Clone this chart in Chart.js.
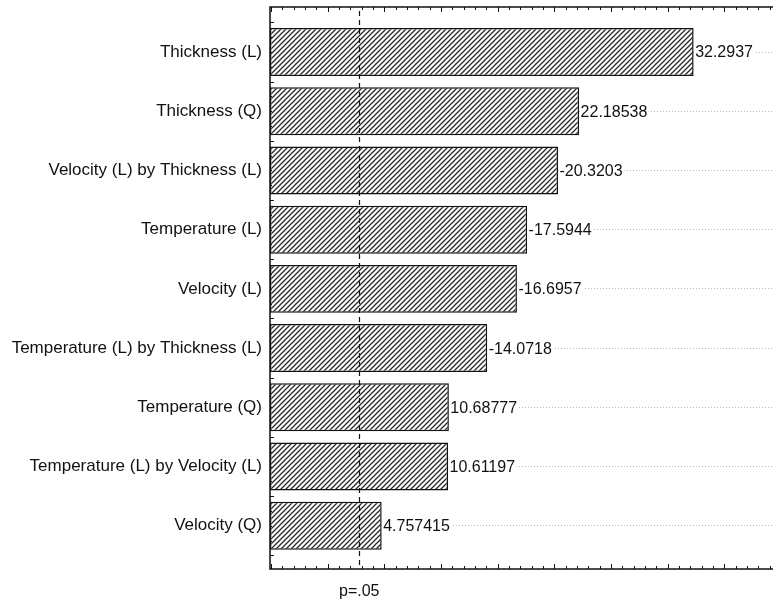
<!DOCTYPE html>
<html>
<head>
<meta charset="utf-8">
<script src="https://cdn.jsdelivr.net/npm/chart.js@4"></script>
<style>
  html, body { margin: 0; padding: 0; background: #fff; }
  #wrap { width: 773px; height: 604px; }
</style>
</head>
<body>
<div id="wrap"><canvas id="c" width="773" height="604"></canvas></div>
<script>
// Pareto chart of standardized effects
const CATEGORIES = [
  'Thickness (L)',
  'Thickness (Q)',
  'Velocity (L) by Thickness (L)',
  'Temperature (L)',
  'Velocity (L)',
  'Temperature (L) by Thickness (L)',
  'Temperature (Q)',
  'Temperature (L) by Velocity (L)',
  'Velocity (Q)'
];
const EFFECTS = [32.2937, 22.18538, -20.3203, -17.5944, -16.6957, -14.0718, 10.68777, 10.61197, 4.757415];
const P_CRIT = 2.776;          // critical value for p = .05
const P_LABEL = 'p=.05';
const X_MIN = -5.1;
const X_MAX = 39.3;

const FONT = '"Liberation Sans", Arial, sans-serif';

function hatchPattern(ctx) {
  const s = 5;
  const c = document.createElement('canvas');
  c.width = s; c.height = s;
  const g = c.getContext('2d');
  g.fillStyle = '#fff';
  g.fillRect(0, 0, s, s);
  g.strokeStyle = '#262626';
  g.lineWidth = 1.25;
  g.beginPath();
  g.moveTo(0, s); g.lineTo(s, 0);
  g.moveTo(-1, 1); g.lineTo(1, -1);
  g.moveTo(s - 1, s + 1); g.lineTo(s + 1, s - 1);
  g.stroke();
  return ctx.createPattern(c, 'repeat');
}

const canvas = document.getElementById('c');
const ctx = canvas.getContext('2d');

// frame, inward ticks, p-line and value labels
const decorations = {
  id: 'decorations',
  afterDatasetsDraw(chart) {
    const { ctx, chartArea: a, scales: { x, y } } = chart;
    ctx.save();

    // value labels with a white backing so gridlines stop at the text
    ctx.font = '16px ' + FONT;
    ctx.textBaseline = 'middle';
    ctx.textAlign = 'left';
    EFFECTS.forEach((v, i) => {
      const txt = String(v);
      const px = x.getPixelForValue(Math.abs(v)) + 1;
      const py = y.getPixelForValue(i);
      const w = ctx.measureText(txt).width;
      ctx.fillStyle = '#fff';
      ctx.fillRect(px, py - 8, w + 2, 16);
      ctx.fillStyle = '#111';
      ctx.fillText(txt, px + 0.5, py + 1);
    });

    // dashed significance line
    const xp = Math.round(x.getPixelForValue(P_CRIT)) + 0.5;
    ctx.strokeStyle = '#111';
    ctx.lineWidth = 1.2;
    ctx.setLineDash([5, 4]);
    ctx.beginPath();
    ctx.moveTo(xp, a.top + 4);
    ctx.lineTo(xp, a.bottom);
    ctx.stroke();
    ctx.setLineDash([]);

    // frame
    ctx.strokeStyle = '#111';
    ctx.lineWidth = 1.5;
    ctx.beginPath();
    ctx.moveTo(a.right + 2, a.top);
    ctx.lineTo(a.left, a.top);
    ctx.lineTo(a.left, a.bottom);
    ctx.lineTo(a.right + 2, a.bottom);
    ctx.stroke();

    // inward ticks on top and bottom edges
    ctx.lineWidth = 1;
    ctx.beginPath();
    for (let t = Math.ceil(X_MIN); t <= X_MAX; t++) {
      const px = Math.round(x.getPixelForValue(t)) + 0.5;
      const len = t % 5 === 0 ? 5 : 3;
      ctx.moveTo(px, a.bottom); ctx.lineTo(px, a.bottom - len);
      ctx.moveTo(px, a.top); ctx.lineTo(px, a.top + len);
    }
    // inward ticks on left edge
    for (let t = -0.5; t <= CATEGORIES.length - 0.5; t += 0.25) {
      const py = Math.round(y.getPixelForValue(t)) + 0.5;
      const len = Number.isInteger(t + 0.5) ? 4 : 2;
      ctx.moveTo(a.left, py); ctx.lineTo(a.left + len, py);
    }
    ctx.stroke();
    ctx.restore();
  }
};

new Chart(ctx, {
  type: 'bar',
  plugins: [decorations],
  data: {
    datasets: [{
      data: EFFECTS.map((v, i) => ({ x: [X_MIN, Math.abs(v)], y: i })),
      backgroundColor: hatchPattern(ctx),
      borderColor: '#111',
      borderWidth: 1.5,
      borderSkipped: false,
      barPercentage: 0.81,
      categoryPercentage: 1.0
    }]
  },
  options: {
    indexAxis: 'y',
    responsive: false,
    animation: false,
    devicePixelRatio: 1,
    layout: { padding: { top: 7, right: 0, left: 0, bottom: 0 } },
    plugins: { legend: { display: false }, tooltip: { enabled: false } },
    scales: {
      x: {
        type: 'linear',
        min: X_MIN,
        max: X_MAX,
        offset: false,
        afterBuildTicks(scale) { scale.ticks = [{ value: P_CRIT }]; },
        afterFit(scale) {
          scale.height = 35;
          scale.paddingLeft = 0;
          scale.paddingRight = 0;
        },
        ticks: {
          callback: () => P_LABEL,
          color: '#111',
          font: { family: FONT, size: 16 },
          padding: 13,
          maxRotation: 0
        },
        grid: { display: false, drawTicks: false },
        border: { display: false }
      },
      y: {
        type: 'linear',
        reverse: true,
        min: -0.76,
        max: 8.73,
        offset: false,
        afterBuildTicks(scale) { scale.ticks = CATEGORIES.map((_, i) => ({ value: i })); },
        afterFit(scale) {
          scale.width = 270;
          scale.paddingTop = 0;
          scale.paddingBottom = 0;
        },
        ticks: {
          callback: (v) => CATEGORIES[v],
          color: '#111',
          font: { family: FONT, size: 17 },
          padding: 8
        },
        grid: {
          color: '#b8b8b8',
          lineWidth: 1,
          offset: false,
          drawTicks: false,
          drawOnChartArea: true
        },
        border: { display: false, dash: [1, 2] }
      }
    }
  }
});
</script>
</body>
</html>
